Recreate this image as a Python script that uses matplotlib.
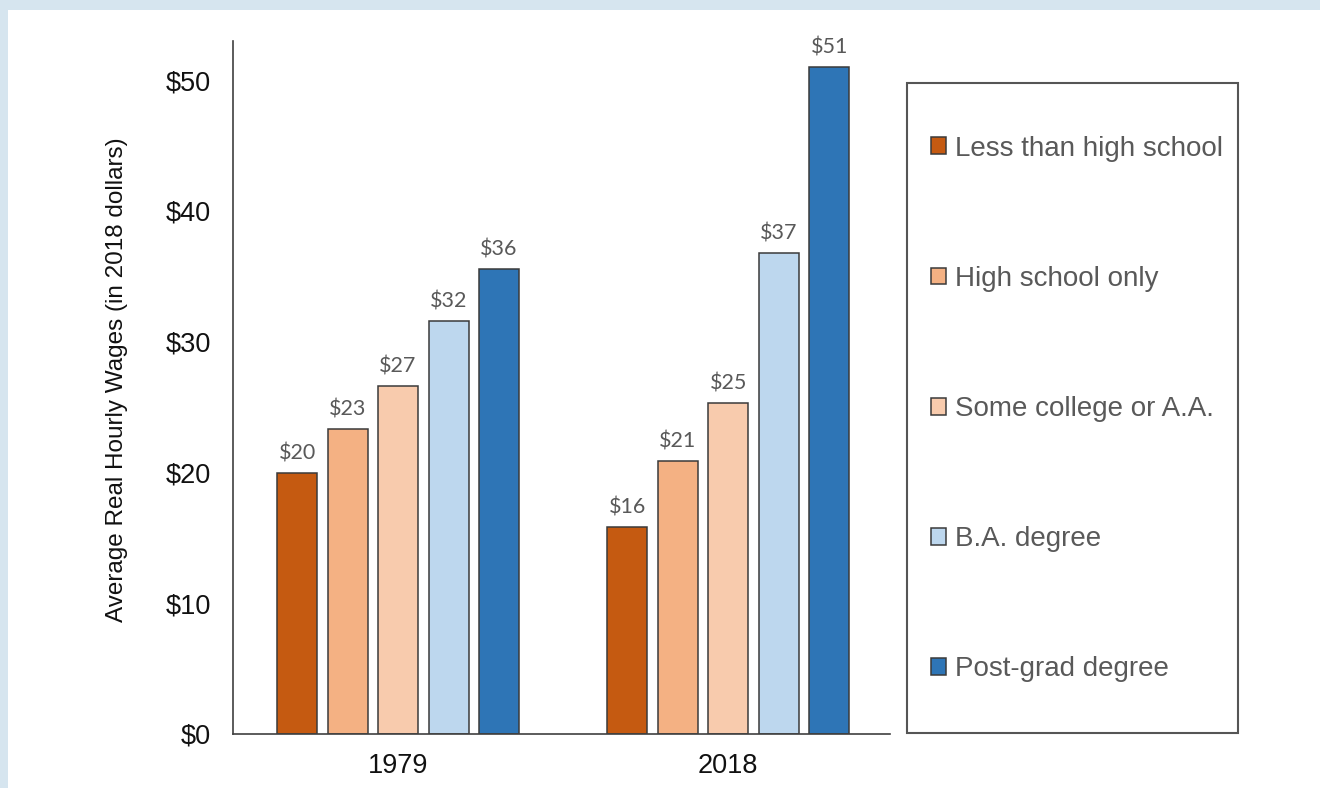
import matplotlib
matplotlib.use('Agg')
import matplotlib.pyplot as plt
from matplotlib.patches import Rectangle
import numpy as np

years = ['1979', '2018']
groups = ['Less than high school', 'High school only', 'Some college or A.A.',
          'B.A. degree', 'Post-grad degree']
wages = {
    'Less than high school': [19.95, 15.8],
    'High school only': [23.3, 20.9],
    'Some college or A.A.': [26.6, 25.3],
    'B.A. degree': [31.6, 36.8],
    'Post-grad degree': [35.55, 51.0],
}
colors = ['#C55A11', '#F4B183', '#F8CBAD', '#BDD7EE', '#2E75B6']
yticks = [0, 10, 20, 30, 40, 50]

plt.rcParams['font.family'] = ['Liberation Sans', 'DejaVu Sans']

fig = plt.figure(figsize=(13.2, 7.88), dpi=100)
fig.patch.set_facecolor('#D6E5EF')
fig.patches.append(Rectangle((8 / 1320, 0), 1, 1 - 10 / 788, transform=fig.transFigure,
                             facecolor='white', edgecolor='none', zorder=-10))

ax = fig.add_axes([233 / 1320, 1 - 734 / 788, 657 / 1320, 693 / 788])
ax.set_facecolor('none')

x = np.arange(len(years))
width = 0.121
pitch = 0.153
bars = []
for i, g in enumerate(groups):
    offset = (i - 2) * pitch
    b = ax.bar(x + offset, wages[g], width, color=colors[i], edgecolor='#3a3a3a',
               linewidth=1.1, label=g)
    bars.append(b)
    for xi, v in zip(x + offset, wages[g]):
        ax.annotate('${}'.format(int(v + 0.5)), (xi, v), xytext=(0, 7),
                    textcoords='offset points', ha='center', va='bottom',
                    fontsize=15.5, color='#595959', family=['Lato', 'DejaVu Sans'])

ax.set_xlim(-0.5, 1.49)
ax.set_ylim(0, 53)
ax.set_xticks(x)
ax.set_xticklabels(years)
ax.set_yticks(yticks)
ax.set_yticklabels(['${}'.format(t) for t in yticks])
ax.tick_params(length=0, labelsize=19.5, colors='#111111')
ax.tick_params(axis='x', pad=14)
ax.tick_params(axis='y', pad=16)
for s in ['top', 'right']:
    ax.spines[s].set_visible(False)
for s in ['left', 'bottom']:
    ax.spines[s].set_color('#404040')
    ax.spines[s].set_linewidth(1.2)

ax.set_ylabel('Average Real Hourly Wages (in 2018 dollars)', fontsize=17.5, color='#111111')
ax.yaxis.set_label_coords(-0.16, 0.511)

# legend box
fig.patches.append(Rectangle((907 / 1320, 1 - 733 / 788), 331 / 1320, 650 / 788,
                             transform=fig.transFigure, facecolor='white',
                             edgecolor='#555555', linewidth=1.5, zorder=1))
leg = fig.legend(handles=bars, labels=groups, loc='center left',
                 bbox_to_anchor=(906 / 1320, 1 - 409 / 788), frameon=False,
                 fontsize=20, labelspacing=3.75, handlelength=0.55, handleheight=0.55,
                 handletextpad=0.3, labelcolor='#595959')
leg.set_zorder(5)

fig.savefig('out.png', dpi=100)
